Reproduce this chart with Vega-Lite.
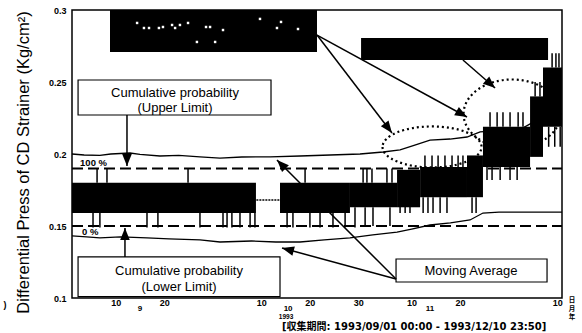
{
  "$schema": "https://vega.github.io/schema/vega-lite/v6.json",
  "width": 490,
  "height": 288,
  "autosize": {"type": "none"},
  "padding": {"left": 72, "top": 10, "right": 20, "bottom": 35},
  "background": "white",
  "config": {
    "view": {"stroke": "black", "strokeWidth": 1.5},
    "font": "Liberation Sans"
  },
  "datasets": {
    "band": [
      {"t": "1993-09-01T00:00", "t2": "1993-10-08T22:00", "v": 0.159, "v2": 0.18},
      {"t": "1993-10-13T21:00", "t2": "1993-10-28T07:00", "v": 0.159, "v2": 0.18},
      {"t": "1993-10-28T07:00", "t2": "1993-11-07T00:00", "v": 0.163, "v2": 0.18},
      {"t": "1993-11-07T00:00", "t2": "1993-11-11T18:00", "v": 0.163, "v2": 0.189},
      {"t": "1993-11-11T18:00", "t2": "1993-11-21T10:00", "v": 0.17, "v2": 0.191},
      {"t": "1993-11-21T10:00", "t2": "1993-11-24T17:00", "v": 0.17, "v2": 0.199},
      {"t": "1993-11-24T17:00", "t2": "1993-12-04T10:00", "v": 0.191, "v2": 0.219},
      {"t": "1993-12-04T10:00", "t2": "1993-12-07T02:00", "v": 0.198, "v2": 0.24},
      {"t": "1993-12-07T02:00", "t2": "1993-12-10T23:50", "v": 0.219, "v2": 0.26}
    ],
    "spikes": [
      {"t": "1993-09-05T08:00", "v": 0.149, "v2": 0.159},
      {"t": "1993-09-06T18:00", "v": 0.149, "v2": 0.159},
      {"t": "1993-09-16T11:00", "v": 0.149, "v2": 0.159},
      {"t": "1993-09-18T17:00", "v": 0.149, "v2": 0.159},
      {"t": "1993-09-27T09:00", "v": 0.149, "v2": 0.159},
      {"t": "1993-10-02T03:00", "v": 0.149, "v2": 0.159},
      {"t": "1993-10-02T23:00", "v": 0.149, "v2": 0.159},
      {"t": "1993-10-03T23:00", "v": 0.149, "v2": 0.159},
      {"t": "1993-10-05T15:00", "v": 0.149, "v2": 0.159},
      {"t": "1993-10-07T17:00", "v": 0.149, "v2": 0.159},
      {"t": "1993-10-08T17:00", "v": 0.149, "v2": 0.159},
      {"t": "1993-10-15T08:00", "v": 0.149, "v2": 0.159},
      {"t": "1993-10-16T13:00", "v": 0.149, "v2": 0.159},
      {"t": "1993-10-20T01:00", "v": 0.149, "v2": 0.159},
      {"t": "1993-10-22T03:00", "v": 0.149, "v2": 0.159},
      {"t": "1993-10-24T19:00", "v": 0.149, "v2": 0.159},
      {"t": "1993-10-27T07:00", "v": 0.149, "v2": 0.159},
      {"t": "1993-10-29T08:00", "v": 0.149, "v2": 0.163},
      {"t": "1993-10-31T10:00", "v": 0.15, "v2": 0.163},
      {"t": "1993-11-02T01:00", "v": 0.15, "v2": 0.163},
      {"t": "1993-11-05T13:00", "v": 0.15, "v2": 0.163},
      {"t": "1993-09-06T04:00", "v": 0.18, "v2": 0.19},
      {"t": "1993-09-08T05:00", "v": 0.18, "v2": 0.19},
      {"t": "1993-09-24T22:00", "v": 0.18, "v2": 0.19},
      {"t": "1993-10-19T01:00", "v": 0.18, "v2": 0.19},
      {"t": "1993-10-31T00:00", "v": 0.18, "v2": 0.19},
      {"t": "1993-10-31T19:00", "v": 0.18, "v2": 0.19},
      {"t": "1993-11-01T20:00", "v": 0.18, "v2": 0.19},
      {"t": "1993-11-04T22:00", "v": 0.18, "v2": 0.19},
      {"t": "1993-11-05T23:00", "v": 0.18, "v2": 0.19},
      {"t": "1993-11-07T15:00", "v": 0.159, "v2": 0.17},
      {"t": "1993-11-08T16:00", "v": 0.159, "v2": 0.17},
      {"t": "1993-11-09T16:00", "v": 0.159, "v2": 0.17},
      {"t": "1993-11-12T09:00", "v": 0.159, "v2": 0.17},
      {"t": "1993-11-13T09:00", "v": 0.159, "v2": 0.17},
      {"t": "1993-11-14T10:00", "v": 0.159, "v2": 0.17},
      {"t": "1993-11-15T21:00", "v": 0.159, "v2": 0.17},
      {"t": "1993-11-17T07:00", "v": 0.159, "v2": 0.17},
      {"t": "1993-11-22T11:00", "v": 0.159, "v2": 0.17},
      {"t": "1993-11-23T07:00", "v": 0.159, "v2": 0.17},
      {"t": "1993-11-12T18:00", "v": 0.191, "v2": 0.199},
      {"t": "1993-11-14T05:00", "v": 0.191, "v2": 0.199},
      {"t": "1993-11-15T11:00", "v": 0.191, "v2": 0.199},
      {"t": "1993-11-16T21:00", "v": 0.191, "v2": 0.199},
      {"t": "1993-11-18T08:00", "v": 0.191, "v2": 0.199},
      {"t": "1993-11-19T14:00", "v": 0.191, "v2": 0.199},
      {"t": "1993-11-20T14:00", "v": 0.191, "v2": 0.199},
      {"t": "1993-11-25T13:00", "v": 0.182, "v2": 0.191},
      {"t": "1993-11-26T14:00", "v": 0.182, "v2": 0.191},
      {"t": "1993-11-28T06:00", "v": 0.182, "v2": 0.191},
      {"t": "1993-11-30T07:00", "v": 0.182, "v2": 0.191},
      {"t": "1993-12-01T18:00", "v": 0.182, "v2": 0.191},
      {"t": "1993-11-26T04:00", "v": 0.219, "v2": 0.229},
      {"t": "1993-11-27T15:00", "v": 0.219, "v2": 0.229},
      {"t": "1993-11-28T20:00", "v": 0.219, "v2": 0.229},
      {"t": "1993-11-30T07:00", "v": 0.219, "v2": 0.229},
      {"t": "1993-12-01T23:00", "v": 0.219, "v2": 0.229},
      {"t": "1993-12-02T23:00", "v": 0.219, "v2": 0.229},
      {"t": "1993-12-05T11:00", "v": 0.24, "v2": 0.25},
      {"t": "1993-12-06T11:00", "v": 0.24, "v2": 0.25},
      {"t": "1993-12-08T23:00", "v": 0.26, "v2": 0.27},
      {"t": "1993-12-09T18:00", "v": 0.26, "v2": 0.27},
      {"t": "1993-12-10T09:00", "v": 0.26, "v2": 0.27},
      {"t": "1993-12-08T06:00", "v": 0.205, "v2": 0.219},
      {"t": "1993-12-09T12:00", "v": 0.205, "v2": 0.219},
      {"t": "1993-12-10T15:00", "v": 0.205, "v2": 0.219}
    ],
    "ma": [
      {"t": "1993-09-01T00:00", "v": 0.2, "s": "upper"},
      {"t": "1993-09-03T12:00", "v": 0.1993, "s": "upper"},
      {"t": "1993-09-06T18:00", "v": 0.199, "s": "upper"},
      {"t": "1993-09-09T00:00", "v": 0.2, "s": "upper"},
      {"t": "1993-09-12T23:00", "v": 0.2007, "s": "upper"},
      {"t": "1993-09-15T00:00", "v": 0.1997, "s": "upper"},
      {"t": "1993-09-19T03:00", "v": 0.1986, "s": "upper"},
      {"t": "1993-09-23T00:00", "v": 0.199, "s": "upper"},
      {"t": "1993-09-27T09:00", "v": 0.198, "s": "upper"},
      {"t": "1993-10-01T12:00", "v": 0.1972, "s": "upper"},
      {"t": "1993-10-06T00:00", "v": 0.1979, "s": "upper"},
      {"t": "1993-10-11T20:00", "v": 0.198, "s": "upper"},
      {"t": "1993-10-18T00:00", "v": 0.1986, "s": "upper"},
      {"t": "1993-10-24T05:00", "v": 0.1993, "s": "upper"},
      {"t": "1993-10-30T09:00", "v": 0.2, "s": "upper"},
      {"t": "1993-11-04T03:00", "v": 0.2014, "s": "upper"},
      {"t": "1993-11-07T15:00", "v": 0.2028, "s": "upper"},
      {"t": "1993-11-10T12:00", "v": 0.206, "s": "upper"},
      {"t": "1993-11-13T19:00", "v": 0.2097, "s": "upper"},
      {"t": "1993-11-17T22:00", "v": 0.2104, "s": "upper"},
      {"t": "1993-11-21T10:00", "v": 0.2118, "s": "upper"},
      {"t": "1993-11-24T03:00", "v": 0.2153, "s": "upper"},
      {"t": "1993-11-27T05:00", "v": 0.216, "s": "upper"},
      {"t": "1993-12-02T08:00", "v": 0.217, "s": "upper"},
      {"t": "1993-12-05T00:00", "v": 0.222, "s": "upper"},
      {"t": "1993-12-10T14:00", "v": 0.232, "s": "upper"},
      {"t": "1993-09-01T00:00", "v": 0.1431, "s": "lower"},
      {"t": "1993-09-04T00:00", "v": 0.1424, "s": "lower"},
      {"t": "1993-09-06T18:00", "v": 0.1417, "s": "lower"},
      {"t": "1993-09-11T00:00", "v": 0.1424, "s": "lower"},
      {"t": "1993-09-16T11:00", "v": 0.1417, "s": "lower"},
      {"t": "1993-09-21T00:00", "v": 0.141, "s": "lower"},
      {"t": "1993-09-27T09:00", "v": 0.1403, "s": "lower"},
      {"t": "1993-10-01T12:00", "v": 0.1389, "s": "lower"},
      {"t": "1993-10-08T00:00", "v": 0.1396, "s": "lower"},
      {"t": "1993-10-13T00:00", "v": 0.1389, "s": "lower"},
      {"t": "1993-10-18T00:00", "v": 0.1389, "s": "lower"},
      {"t": "1993-10-23T00:00", "v": 0.1403, "s": "lower"},
      {"t": "1993-10-28T07:00", "v": 0.1417, "s": "lower"},
      {"t": "1993-11-02T00:00", "v": 0.1438, "s": "lower"},
      {"t": "1993-11-07T00:00", "v": 0.1458, "s": "lower"},
      {"t": "1993-11-10T00:00", "v": 0.1479, "s": "lower"},
      {"t": "1993-11-13T19:00", "v": 0.1507, "s": "lower"},
      {"t": "1993-11-18T00:00", "v": 0.1521, "s": "lower"},
      {"t": "1993-11-22T01:00", "v": 0.1542, "s": "lower"},
      {"t": "1993-11-24T17:00", "v": 0.159, "s": "lower"},
      {"t": "1993-11-28T00:00", "v": 0.1597, "s": "lower"},
      {"t": "1993-12-04T00:00", "v": 0.1597, "s": "lower"},
      {"t": "1993-12-10T23:50", "v": 0.1597, "s": "lower"}
    ],
    "limits": [
      {"t": "1993-09-01T00:00", "t2": "1993-12-10T23:50", "v": 0.19},
      {"t": "1993-09-01T00:00", "t2": "1993-12-10T23:50", "v": 0.15}
    ],
    "gap": [
      {"t": "1993-10-09T00:00", "t2": "1993-10-13T21:00", "v": 0.168}
    ],
    "pct": [
      {"t": "1993-09-02T16:00", "v": 0.1937, "label": "100 %"},
      {"t": "1993-09-03T01:30", "v": 0.1455, "label": "0 %"}
    ],
    "blackboxes": [
      {"t": "1993-09-08T20:00", "t2": "1993-10-21T12:00", "v": 0.2708, "v2": 0.3},
      {"t": "1993-10-30T14:00", "t2": "1993-12-08T03:00", "v": 0.2653, "v2": 0.2806}
    ],
    "dots": [
      {"t": "1993-09-14T10:00", "v": 0.291},
      {"t": "1993-09-15T20:00", "v": 0.2875},
      {"t": "1993-09-16T21:00", "v": 0.2875},
      {"t": "1993-09-18T22:00", "v": 0.2875},
      {"t": "1993-09-19T18:00", "v": 0.2882},
      {"t": "1993-09-21T15:00", "v": 0.2896},
      {"t": "1993-09-22T06:00", "v": 0.2875},
      {"t": "1993-09-23T06:00", "v": 0.2896},
      {"t": "1993-09-24T22:00", "v": 0.291},
      {"t": "1993-09-26T18:00", "v": 0.2778},
      {"t": "1993-09-28T15:00", "v": 0.2882},
      {"t": "1993-09-29T11:00", "v": 0.2882},
      {"t": "1993-10-02T03:00", "v": 0.2861},
      {"t": "1993-09-30T12:00", "v": 0.2778},
      {"t": "1993-10-09T18:00", "v": 0.2938},
      {"t": "1993-10-14T02:00", "v": 0.2917},
      {"t": "1993-10-13T06:00", "v": 0.2875},
      {"t": "1993-10-17T14:00", "v": 0.2868}
    ],
    "textboxes": [
      {"t": "1993-09-02T06:00", "t2": "1993-10-12T00:30", "v": 0.2271, "v2": 0.2514},
      {"t": "1993-09-02T06:00", "t2": "1993-10-13T21:00", "v": 0.101, "v2": 0.1285},
      {"t": "1993-11-06T19:00", "t2": "1993-12-07T22:00", "v": 0.1111, "v2": 0.1271}
    ],
    "boxtexts": [
      {"t": "1993-09-22T05:30", "v": 0.2424, "label": "Cumulative probability"},
      {"t": "1993-09-22T05:30", "v": 0.2319, "label": "(Upper Limit)"},
      {"t": "1993-09-23T01:30", "v": 0.1188, "label": "Cumulative probability"},
      {"t": "1993-09-23T01:30", "v": 0.1076, "label": "(Lower Limit)"},
      {"t": "1993-11-22T06:00", "v": 0.1188, "label": "Moving Average"}
    ],
    "arrows": [
      {"t": "1993-09-12T08:00", "t2": "1993-09-12T08:00", "v": 0.2271, "v2": 0.1917},
      {"t": "1993-09-11T22:00", "t2": "1993-09-11T22:00", "v": 0.1285, "v2": 0.1486},
      {"t": "1993-11-06T19:00", "t2": "1993-10-13T06:00", "v": 0.1132, "v2": 0.1958},
      {"t": "1993-11-06T19:00", "t2": "1993-10-14T07:00", "v": 0.1132, "v2": 0.1347},
      {"t": "1993-10-21T12:00", "t2": "1993-11-05T23:00", "v": 0.2826, "v2": 0.2146},
      {"t": "1993-10-21T12:00", "t2": "1993-11-21T10:00", "v": 0.2826, "v2": 0.2257},
      {"t": "1993-11-20T14:00", "t2": "1993-11-27T05:00", "v": 0.2653, "v2": 0.2458}
    ],
    "monthstarts": [
      {"t": "1993-10-01T00:00"},
      {"t": "1993-11-01T00:00"},
      {"t": "1993-12-01T00:00"}
    ],
    "months": [
      {"t": "1993-09-15T00:00", "v": 0.0924, "label": "9"},
      {"t": "1993-10-15T13:00", "v": 0.0924, "label": "10"},
      {"t": "1993-11-13T19:00", "v": 0.0924, "label": "11"}
    ],
    "units": [
      {"t": "1993-12-13T02:00", "v": 0.0986, "label": "日"},
      {"t": "1993-12-13T02:00", "v": 0.0927, "label": "月"},
      {"t": "1993-12-13T02:00", "v": 0.0868, "label": "年"}
    ]
  },
  "encoding": {
    "x": {
      "field": "t",
      "type": "temporal",
      "scale": {"domain": [{"year": 1993, "month": 9, "date": 1}, {"year": 1993, "month": 12, "date": 11}]},
      "axis": {
        "values": [
          {"year": 1993, "month": 9, "date": 10},
          {"year": 1993, "month": 9, "date": 20},
          {"year": 1993, "month": 10, "date": 10},
          {"year": 1993, "month": 10, "date": 20},
          {"year": 1993, "month": 10, "date": 30},
          {"year": 1993, "month": 11, "date": 10},
          {"year": 1993, "month": 11, "date": 20},
          {"year": 1993, "month": 12, "date": 10}
        ],
        "labelExpr": "date(datum.value)",
        "ticks": false,
        "tickSize": 0,
        "domain": false,
        "grid": false,
        "labelPadding": 0,
        "labelFont": "Liberation Sans",
        "labelFontWeight": "bold",
        "labelFontSize": 9,
        "labelColor": "black",
        "labelOverlap": false,
        "labelFlush": false,
        "title": null
      }
    },
    "y": {
      "field": "v",
      "type": "quantitative",
      "scale": {"domain": [0.1, 0.3], "nice": false, "zero": false},
      "axis": {
        "values": [0.1, 0.15, 0.2, 0.25, 0.3],
        "labelExpr": "format(datum.value, '.2~f')",
        "ticks": false,
        "tickSize": 0,
        "domain": false,
        "grid": false,
        "labelPadding": 6,
        "labelFont": "Liberation Sans",
        "labelFontWeight": "bold",
        "labelFontSize": 9,
        "labelColor": "black",
        "labelOverlap": false,
        "labelFlush": false,
        "title": "Differential Press of CD Strainer (Kg/cm²)",
        "titleFont": "Liberation Sans",
        "titleFontSize": 16.5,
        "titleFontWeight": "normal",
        "titleColor": "black",
        "titleX": -49,
        "titleY": 152,
        "titleBaseline": "middle"
      }
    }
  },
  "layer": [
    {
      "data": {"name": "limits"},
      "mark": {"type": "rule", "color": "black", "strokeWidth": 2, "strokeDash": [11, 5]},
      "encoding": {"x2": {"field": "t2"}}
    },
    {
      "data": {"name": "gap"},
      "mark": {"type": "rule", "color": "black", "strokeWidth": 1.5, "strokeDash": [2, 1]},
      "encoding": {"x2": {"field": "t2"}}
    },
    {
      "data": {"name": "band"},
      "mark": {"type": "rect", "color": "black"},
      "encoding": {"x2": {"field": "t2"}, "y2": {"field": "v2"}}
    },
    {
      "data": {"name": "spikes"},
      "mark": {"type": "rule", "color": "black", "strokeWidth": 1.5},
      "encoding": {"y2": {"field": "v2"}}
    },
    {
      "data": {"name": "ma"},
      "mark": {"type": "line", "color": "black", "strokeWidth": 1.3},
      "encoding": {"detail": {"field": "s"}}
    },
    {
      "data": {"name": "pct"},
      "mark": {"type": "text", "align": "left", "baseline": "middle", "font": "Liberation Sans", "fontWeight": "bold", "fontSize": 9.5, "color": "black"},
      "encoding": {"text": {"field": "label"}}
    },
    {
      "data": {"name": "blackboxes"},
      "mark": {"type": "rect", "color": "black"},
      "encoding": {"x2": {"field": "t2"}, "y2": {"field": "v2"}}
    },
    {
      "data": {"name": "dots"},
      "mark": {"type": "square", "color": "white", "size": 6, "opacity": 1}
    },
    {
      "data": {"name": "textboxes"},
      "mark": {"type": "rect", "fill": "white", "stroke": "black", "strokeWidth": 1.2},
      "encoding": {"x2": {"field": "t2"}, "y2": {"field": "v2"}}
    },
    {
      "data": {"name": "boxtexts"},
      "mark": {"type": "text", "align": "center", "baseline": "middle", "font": "Liberation Sans", "fontSize": 13, "color": "black"},
      "encoding": {"text": {"field": "label"}}
    },
    {
      "data": {"name": "arrows"},
      "mark": {"type": "rule", "color": "black", "strokeWidth": 1.5},
      "encoding": {"x2": {"field": "t2"}, "y2": {"field": "v2"}}
    },
    {
      "data": {"values": [{"t": "1993-09-12T08:00", "v": 0.1917}]},
      "mark": {"type": "point", "shape": "M0,0L0.4,1L-0.4,1Z", "filled": true, "color": "black", "opacity": 1, "size": 576, "angle": 180}
    },
    {
      "data": {"values": [{"t": "1993-09-11T22:00", "v": 0.1486}]},
      "mark": {"type": "point", "shape": "M0,0L0.4,1L-0.4,1Z", "filled": true, "color": "black", "opacity": 1, "size": 576, "angle": 0}
    },
    {
      "data": {"values": [{"t": "1993-10-13T06:00", "v": 0.1958}]},
      "mark": {"type": "point", "shape": "M0,0L0.4,1L-0.4,1Z", "filled": true, "color": "black", "opacity": 1, "size": 576, "angle": 315}
    },
    {
      "data": {"values": [{"t": "1993-10-14T07:00", "v": 0.1347}]},
      "mark": {"type": "point", "shape": "M0,0L0.4,1L-0.4,1Z", "filled": true, "color": "black", "opacity": 1, "size": 576, "angle": 285}
    },
    {
      "data": {"values": [{"t": "1993-11-05T23:00", "v": 0.2146}]},
      "mark": {"type": "point", "shape": "M0,0L0.4,1L-0.4,1Z", "filled": true, "color": "black", "opacity": 1, "size": 576, "angle": 142.6}
    },
    {
      "data": {"values": [{"t": "1993-11-21T10:00", "v": 0.2257}]},
      "mark": {"type": "point", "shape": "M0,0L0.4,1L-0.4,1Z", "filled": true, "color": "black", "opacity": 1, "size": 576, "angle": 119.5}
    },
    {
      "data": {"values": [{"t": "1993-11-27T05:00", "v": 0.2458}]},
      "mark": {"type": "point", "shape": "M0,0L0.4,1L-0.4,1Z", "filled": true, "color": "black", "opacity": 1, "size": 576, "angle": 131.2}
    },
    {
      "data": {"values": [{"t": "1993-11-14T05:00", "v": 0.2049}]},
      "mark": {"type": "point", "shape": "M-1,0A1,0.414,0,1,0,1,0A1,0.414,0,1,0,-1,0Z", "filled": false, "stroke": "black", "strokeWidth": 2.2, "strokeDash": [2, 3], "opacity": 1, "size": 9801}
    },
    {
      "data": {"values": [{"t": "1993-11-30T17:00", "v": 0.2278}]},
      "mark": {"type": "point", "shape": "M-1,0A1,0.711,0,1,0,1,0A1,0.711,0,1,0,-1,0Z", "filled": false, "stroke": "black", "strokeWidth": 2.2, "strokeDash": [2, 3], "opacity": 1, "size": 9409}
    },
    {
      "data": {"name": "monthstarts"},
      "mark": {"type": "rule", "color": "black", "strokeWidth": 1.2},
      "encoding": {"y": {"datum": 0.1, "type": "quantitative"}, "y2": {"datum": 0.1045}}
    },
    {
      "data": {"name": "monthstarts"},
      "mark": {"type": "rule", "color": "black", "strokeWidth": 1.2},
      "encoding": {"y": {"datum": 0.2955, "type": "quantitative"}, "y2": {"datum": 0.3}}
    },
    {
      "data": {"name": "months"},
      "mark": {"type": "text", "align": "center", "baseline": "middle", "font": "Liberation Sans", "fontWeight": "bold", "fontSize": 8, "color": "black"},
      "encoding": {"text": {"field": "label"}}
    },
    {
      "data": {"values": [{"t": "1993-10-15T03:00", "v": 0.0868, "label": "1993"}]},
      "mark": {"type": "text", "align": "center", "baseline": "middle", "font": "Liberation Sans", "fontWeight": "bold", "fontSize": 6.5, "color": "black"},
      "encoding": {"text": {"field": "label"}}
    },
    {
      "data": {"values": [{"t": "1993-10-14T07:00", "v": 0.0799, "label": "[収集期間: 1993/09/01 00:00 - 1993/12/10 23:50]"}]},
      "mark": {"type": "text", "align": "left", "baseline": "middle", "font": "DejaVu Sans, Noto Sans CJK JP", "fontWeight": "bold", "fontSize": 10, "color": "black"},
      "encoding": {"text": {"field": "label"}}
    },
    {
      "data": {"name": "units"},
      "mark": {"type": "text", "align": "center", "baseline": "middle", "font": "Noto Sans CJK JP", "fontWeight": "bold", "fontSize": 6.5, "color": "black"},
      "encoding": {"text": {"field": "label"}}
    },
    {
      "data": {"values": [{"t": "1993-08-18T05:00", "v": 0.0951, "label": ")"}]},
      "mark": {"type": "text", "align": "center", "baseline": "middle", "font": "Liberation Sans", "fontWeight": "bold", "fontSize": 9, "color": "black"},
      "encoding": {"text": {"field": "label"}}
    }
  ]
}
